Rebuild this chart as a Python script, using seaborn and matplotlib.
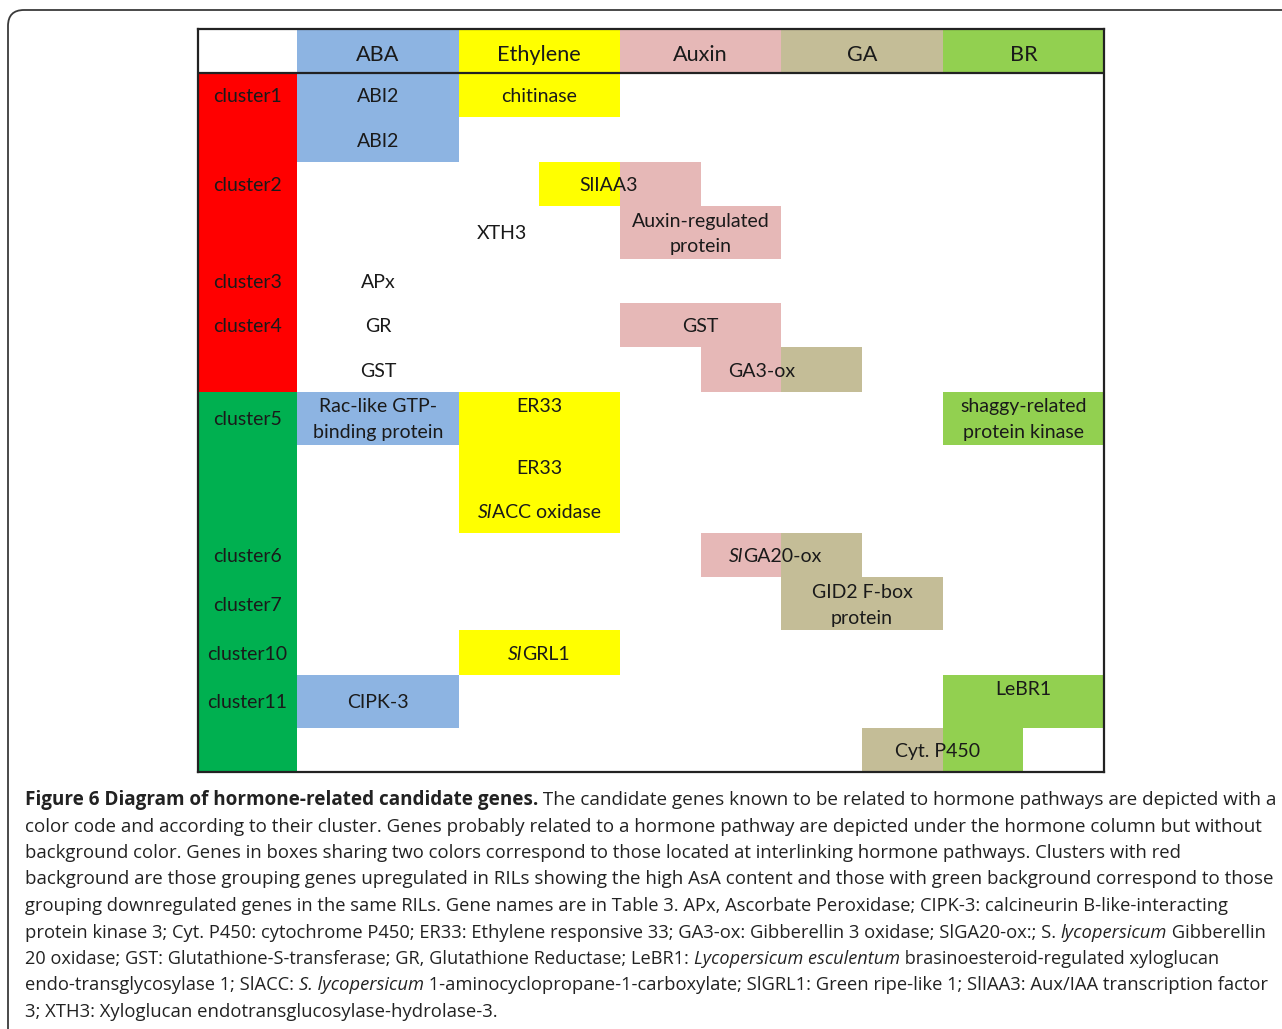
import numpy as np
import matplotlib
matplotlib.use("Agg")
import matplotlib.pyplot as plt
import matplotlib.patches as mpatches
import matplotlib.transforms as mtransforms
import seaborn as sns

W, H, DPI = 1282, 1029, 100

# ---------------- data ----------------
hormones = ["ABA", "Ethylene", "Auxin", "GA", "BR"]
hormone_colors = ["#8DB4E2", "#FFFF00", "#E6B8B7", "#C4BD97", "#92D050"]

# relative height of each table row (1.2 = rows holding two-line labels)
row_heights = [1, 1, 1, 1.2, 1, 1, 1, 1.2, 1, 1, 1, 1.2, 1, 1.2, 1]

clusters = ["cluster1", "cluster2", "cluster3", "cluster4", "cluster5",
            "cluster6", "cluster7", "cluster10", "cluster11"]
cluster_rows = [0, 2, 4, 5, 7, 10, 11, 12, 13]
regulation = ["up", "down"]
regulation_rows = [(0, 7), (7, 15)]
regulation_colors = ["#FF0000", "#00B050"]

# coloured gene boxes: hormone, column span (ABA = 0..1), row span
cell_hormone = ["ABA", "Ethylene", "Ethylene", "Auxin", "Auxin", "Auxin", "Auxin", "GA",
                "ABA", "Ethylene", "BR", "Auxin", "GA", "GA", "Ethylene", "ABA", "BR",
                "GA", "BR"]
cell_x0 = [0, 1, 1.5, 2, 2, 2, 2.5, 3, 0, 1, 4, 2.5, 3, 3, 1, 0, 4, 3.5, 4]
cell_x1 = [1, 2, 2, 2.5, 3, 3, 3, 3.5, 1, 2, 5, 3, 3.5, 4, 2, 1, 5, 4, 4.5]
cell_row0 = [0, 0, 2, 2, 3, 5, 6, 6, 7, 7, 7, 10, 10, 11, 12, 13, 13, 14, 14]
cell_row1 = [2, 1, 3, 3, 4, 6, 7, 7, 8, 10, 8, 11, 11, 12, 13, 14, 14, 15, 15]

# gene labels (*...* = italic)
gene_labels = ["ABI2", "ABI2", "chitinase", "SlIAA3", "XTH3", "Auxin-regulated\nprotein",
               "APx", "GR", "GST", "GST", "GA3-ox", "Rac-like GTP-\nbinding protein",
               "ER33\n", "shaggy-related\nprotein kinase", "ER33", "*Sl*ACC oxidase",
               "*Sl*GA20-ox", "GID2 F-box\nprotein", "*Sl*GRL1", "CIPK-3", "LeBR1\n",
               "Cyt. P450"]
gene_x = [0.5, 0.5, 1.5, 1.93, 1.27, 2.5, 0.5, 0.5, 2.5, 0.5, 2.88, 0.5, 1.5, 4.5,
          1.5, 1.5, 2.96, 3.5, 1.5, 0.5, 4.5, 3.97]
gene_row = [0, 1, 0, 2, 3, 3, 4, 5, 5, 6, 6, 7, 7, 7, 8, 9, 10, 11, 12, 13, 13, 14]

caption_lines = [
    "**Figure 6 Diagram of hormone-related candidate genes.** The candidate genes known to be related to hormone pathways are depicted with a",
    "color code and according to their cluster. Genes probably related to a hormone pathway are depicted under the hormone column but without",
    "background color. Genes in boxes sharing two colors correspond to those located at interlinking hormone pathways. Clusters with red",
    "background are those grouping genes upregulated in RILs showing the high AsA content and those with green background correspond to those",
    "grouping downregulated genes in the same RILs. Gene names are in Table 3. APx, Ascorbate Peroxidase; CIPK-3: calcineurin B-like-interacting",
    "protein kinase 3; Cyt. P450: cytochrome P450; ER33: Ethylene responsive 33; GA3-ox: Gibberellin 3 oxidase; SlGA20-ox:; S. *lycopersicum* Gibberellin",
    "20 oxidase; GST: Glutathione-S-transferase; GR, Glutathione Reductase; LeBR1: *Lycopersicum esculentum* brasinoesteroid-regulated xyloglucan",
    "endo-transglycosylase 1; SlACC: *S. lycopersicum* 1-aminocyclopropane-1-carboxylate; SlGRL1: Green ripe-like 1; SlIAA3: Aux/IAA transcription factor",
    "3; XTH3: Xyloglucan endotransglucosylase-hydrolase-3.",
]
# right end of each caption line in the reference (pixels)
caption_right = [1276, 1260, 1182, 1277, 1232, 1261, 1218, 1262, None]

# ---------------- styling ----------------
sns.set_theme(style="white")
plt.rcParams["font.family"] = ["Lato", "DejaVu Sans"]
TABLE_FONT = ["Lato", "DejaVu Sans"]
CAP_FONT = ["Open Sans", "DejaVu Sans"]
TXT = "#1a1a1a"

fig = plt.figure(figsize=(W / DPI, H / DPI), dpi=DPI)
fig.patch.set_facecolor("white")
renderer = fig.canvas.get_renderer()
ident = mtransforms.IdentityTransform()

# rounded frame around the whole figure
frame = mpatches.FancyBboxPatch((8, -40), W + 60, H - 10 + 40,
                                boxstyle="round,pad=0,rounding_size=16",
                                transform=ident, fill=False, ec="#3a3a3a", lw=1.3)
fig.patches.append(frame)

# table axes
x_left = -99 / 161.0
total_h = sum(row_heights)
ax = fig.add_axes([198 / W, 1 - 772 / H, 906 / W, 743 / H])
ax.set_xlim(x_left, 5)
ax.set_ylim(total_h, -1)
ax.set_xticks([])
ax.set_yticks([])
ax.set_facecolor("white")
for s in ax.spines.values():
    s.set_visible(True)
    s.set_color("#222222")
    s.set_linewidth(1.6)
    s.set_zorder(10)

row_tops = np.concatenate([[0.0], np.cumsum(row_heights)[:-1]])
row_bottoms = np.cumsum(row_heights)

# header
ax.bar(np.arange(len(hormones)), [1] * len(hormones), bottom=-1, width=1, align="edge",
       color=hormone_colors, linewidth=0, zorder=1)
ax.axhline(0, color="#222222", lw=1.6, zorder=10)

# regulation column
for (r0, r1), c in zip(regulation_rows, regulation_colors):
    ax.bar(x_left, row_bottoms[r1 - 1] - row_tops[r0], bottom=row_tops[r0],
           width=-x_left, align="edge", color=c, linewidth=0, zorder=1)

# gene boxes
hcol = dict(zip(hormones, hormone_colors))
for h, x0, x1, r0, r1 in zip(cell_hormone, cell_x0, cell_x1, cell_row0, cell_row1):
    ax.bar(x0, row_bottoms[r1 - 1] - row_tops[r0], bottom=row_tops[r0], width=x1 - x0,
           align="edge", color=hcol[h], linewidth=0, zorder=1)


def parse_runs(s, marker="*"):
    parts = s.split(marker)
    return [(p, i % 2 == 1) for i, p in enumerate(parts) if p]


def run_width(text, size, family, weight="normal", style="normal"):
    kw = dict(fontsize=size, family=family, fontweight=weight, fontstyle=style)
    t1 = fig.text(0, 0, "|" + text + "|", transform=ident, **kw)
    t2 = fig.text(0, 0, "||", transform=ident, **kw)
    w = t1.get_window_extent(renderer).width - t2.get_window_extent(renderer).width
    t1.remove()
    t2.remove()
    return w


def draw_line(runs, x, y_base, size, family, ha="center", color=TXT):
    """runs: list of (text, weight, style); x, y_base in display pixels (y up)."""
    widths = [run_width(t, size, family, w, s) for t, w, s in runs]
    total = sum(widths)
    cx = x - total / 2 if ha == "center" else x
    for (t, w, s), wd in zip(runs, widths):
        fig.text(cx, y_base, t, transform=ident, fontsize=size, family=family,
                 fontweight=w, fontstyle=s, color=color, ha="left", va="baseline")
        cx += wd


def to_disp(x, y):
    return ax.transData.transform((x, y))


def cap_px(size):
    return size * DPI / 72 * 0.72


HEAD_SIZE = 15.6
GENE_SIZE = 14.0
LINE_SP = 25.5  # px between two lines

# header labels
for i, h in enumerate(hormones):
    X, Y = to_disp(i + 0.5, -0.5)
    draw_line([(h, "normal", "normal")], X, Y - 2 - cap_px(HEAD_SIZE) / 2, HEAD_SIZE, TABLE_FONT)

# cluster labels
for c, r in zip(clusters, cluster_rows):
    X, Y = to_disp(x_left / 2, row_tops[r] + row_heights[r] / 2)
    draw_line([(c, "normal", "normal")], X, Y - cap_px(GENE_SIZE) / 2, GENE_SIZE, TABLE_FONT)

# gene labels
for lab, gx, r in zip(gene_labels, gene_x, gene_row):
    lines = lab.split("\n")
    X, Y = to_disp(gx, row_tops[r] + row_heights[r] / 2)
    n = len(lines)
    for k, ln in enumerate(lines):
        if not ln:
            continue
        yc = Y + ((n - 1) / 2 - k) * LINE_SP
        runs = [(t, "normal", "italic" if it else "normal") for t, it in parse_runs(ln)]
        draw_line(runs, X, yc - cap_px(GENE_SIZE) / 2, GENE_SIZE, TABLE_FONT)


# caption
def caption_runs(line):
    out = []
    bold_parts = line.split("**")
    for i, bp in enumerate(bold_parts):
        weight = "bold" if i % 2 == 1 else "normal"
        for t, it in parse_runs(bp):
            out.append((t, weight, "italic" if it else "normal"))
    return out


cap_runs = [caption_runs(l) for l in caption_lines]
ref_size = 10.0
sizes = []
for runs, right in zip(cap_runs, caption_right):
    if right is None:
        sizes.append(None)
        continue
    w0 = sum(run_width(t, ref_size, CAP_FONT, w, s) for t, w, s in runs)
    sizes.append(ref_size * (right - 25) / w0)
med = float(np.median([s for s in sizes if s is not None]))
# keep sizes close to a common value
sizes = [med if s is None else float(np.clip(s, med * 0.97, med * 1.03)) for s in sizes]
for i, runs in enumerate(cap_runs):
    base = H - (805 + 26.5 * i)
    draw_line(runs, 25, base, sizes[i], CAP_FONT, ha="left", color="#222222")

fig.savefig("out.png", dpi=DPI, facecolor="white")
